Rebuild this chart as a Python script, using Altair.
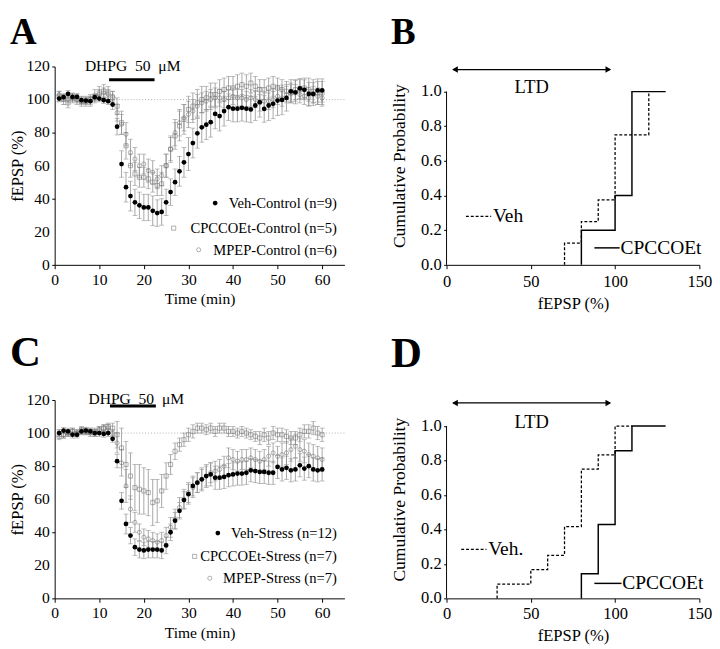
import altair as alt
import pandas as pd

SERIF = "Liberation Serif"
ERR_GRAY = "#8f8f8f"
PT_GRAY = "#707070"

minutes = list(range(1, 61))

# ---------- Panel A (control) ----------
veh_ctrl = [100.6, 101.4, 103.4, 101.6, 101.6, 99.6, 99.4, 99, 101.4, 100.6, 99.6, 99, 97, 83.6, 61, 47, 41.6, 37.8, 36, 34.7,
            34.7, 32.7, 31.3, 32, 37.8, 44, 50, 56.6, 62, 67, 73.7, 79.6, 83.2, 84.8, 86.3, 91.3, 90, 93, 95.4, 94.5,
            94.5, 95, 94.5, 94, 96.4, 98.4, 94.3, 96.4, 97.4, 99.4, 99.8, 101, 105, 104.4, 106.7, 105.9, 103.4, 103.4, 105.5, 105.5]
veh_ctrl_err = [2, 2, 2, 2, 2, 2, 2, 3, 2, 2, 2, 2, 3, 5, 8, 9, 9, 8, 8, 8,
                8, 9, 8, 8, 8, 8, 8, 9, 9, 10, 9, 9, 9, 9, 9, 9, 9, 9, 8, 8,
                8, 8, 8, 8, 9, 9, 8, 9, 9, 9, 9, 8, 7, 7, 6, 6, 7, 7, 7, 7]
cpc_ctrl = [102, 100, 98, 101, 100, 99, 99, 100, 102, 104, 105, 104, 101, 96, 86, 72, 60, 55, 53, 53,
            52, 50, 48, 49, 60, 70, 78, 84, 88, 94, 96, 98, 100, 101, 103, 103, 105, 106, 107, 107,
            108, 109, 108, 110, 108, 106, 106, 107, 108, 107, 106, 105, 104, 106, 106, 107, 106, 105, 104, 104]
cpc_ctrl_err = [3, 3, 3, 3, 3, 3, 3, 3, 4, 4, 4, 4, 4, 5, 7, 8, 7, 7, 6, 6,
                6, 6, 6, 7, 7, 8, 8, 9, 9, 8, 8, 8, 8, 7, 7, 7, 7, 7, 7, 7,
                7, 7, 7, 6, 6, 6, 6, 6, 6, 6, 6, 6, 6, 6, 6, 6, 7, 7, 7, 7]
mpep_ctrl = [103, 101, 100, 101, 100, 99, 99, 100, 101, 103, 104, 103, 102, 92, 85, 79, 68, 64, 60, 61,
             57, 56, 52, 54, 60, 70, 80, 86, 89, 91, 93, 96, 98, 99, 100, 101, 101, 100, 101, 102,
             101, 101, 100, 101, 100, 98, 99, 99, 100, 102, 101, 103, 104, 104, 103, 102, 101, 103, 102, 101]
mpep_ctrl_err = [2, 2, 2, 2, 2, 2, 2, 2, 2, 3, 3, 3, 3, 5, 6, 7, 8, 7, 7, 6,
                 7, 7, 6, 6, 7, 7, 8, 8, 8, 8, 7, 7, 6, 6, 6, 6, 5, 5, 5, 5,
                 5, 5, 5, 5, 5, 5, 5, 5, 5, 5, 5, 5, 5, 5, 5, 5, 5, 5, 5, 5]

# ---------- Panel C (stress) ----------
veh_str = [100, 101.5, 101, 99, 99, 101, 101.5, 101, 100, 100, 99.5, 100, 96.5, 83, 59, 45, 38, 31, 29.5, 29,
           29.5, 29.5, 29.5, 29, 32, 40, 47, 53, 59.5, 63, 68, 70, 72, 74, 75, 73, 73, 73.5, 74.5, 75,
           75.5, 75.5, 76, 77.5, 77, 76.5, 76.5, 76, 76, 79.5, 78, 79, 77.5, 78, 80.5, 78.5, 80, 78, 77.5, 78]
veh_str_err = [2, 2, 2, 2, 2, 2, 2, 2, 2, 2, 2, 2, 2, 4, 5, 6, 5, 5, 5, 5,
               5, 5, 5, 5, 5, 5, 5, 5, 5, 6, 6, 6, 7, 7, 7, 7, 7, 7, 7, 7,
               7, 7, 7, 7, 7, 7, 7, 7, 7, 7, 7, 7, 7, 7, 7, 7, 7, 7, 7, 7]
cpc_str = [98, 99, 100, 101, 100, 102, 101, 101, 100, 102, 103, 104, 103, 99, 91, 81, 74, 67, 66, 65,
           64, 58, 59, 65, 74, 81, 89, 93, 96, 99, 101, 103, 103, 102, 103, 101, 103, 103, 101, 101,
           100, 101, 100, 99, 98, 97, 99, 97, 100, 99, 99, 98, 97, 97, 99, 101, 101, 103, 100, 99]
cpc_str_err = [2, 2, 2, 2, 2, 2, 2, 2, 2, 2, 2, 2, 3, 8, 12, 14, 14, 14, 15, 14,
               14, 14, 13, 10, 8, 6, 5, 4, 4, 4, 4, 3, 3, 3, 3, 3, 3, 3, 3, 3,
               3, 3, 3, 3, 3, 4, 4, 4, 4, 4, 4, 4, 4, 4, 4, 4, 4, 4, 4, 4]
mpep_str = [100, 99, 100, 101, 100, 101, 101, 100, 101, 102, 103, 103, 100, 94, 82, 68, 54, 46, 40, 37,
            36, 35, 34, 35, 38, 43, 48, 55, 60, 64, 67, 70, 72, 74, 76, 77, 78, 80, 85, 84,
            83, 84, 84, 85, 84, 83, 84, 86, 88, 86, 87, 88, 90, 92, 90, 89, 87, 86, 85, 84]
mpep_str_err = [2, 2, 2, 2, 2, 2, 2, 2, 2, 2, 2, 2, 2, 6, 8, 10, 8, 6, 5, 5,
                5, 5, 5, 5, 5, 6, 6, 6, 6, 6, 6, 6, 6, 6, 6, 6, 6, 6, 6, 6,
                6, 6, 6, 6, 6, 6, 6, 6, 6, 6, 7, 7, 7, 7, 7, 7, 7, 7, 7, 7]

# ---------- Panels B / D (cumulative probability) ----------
b_veh_x = [70, 70, 80, 90, 100, 120]
b_veh_y = [0, 0.125, 0.25, 0.375, 0.75, 1.0]
b_cpc_x = [80, 80, 100, 110, 130]
b_cpc_y = [0, 0.2, 0.4, 1.0, 1.0]
d_veh_x = [30, 30, 50, 60, 70, 80, 90, 100, 110]
d_veh_y = [0, 0.083, 0.167, 0.25, 0.417, 0.75, 0.833, 1.0, 1.0]
d_cpc_x = [80, 80, 90, 100, 110, 130]
d_cpc_y = [0, 0.143, 0.429, 0.857, 1.0, 1.0]

time_ticks = [0, 10, 20, 30, 40, 50, 60]
fepsp_ticks = [0, 20, 40, 60, 80, 100, 120]
fepsp_labels = ["0", "20", "40", "60", "80", "100", "120"]
cum_x_ticks = [0, 50, 100, 150]
cum_y_ticks = [0, 0.2, 0.4, 0.6, 0.8, 1.0]
cum_y_labels = ["0.0", "0.2", "0.4", "0.6", "0.8", "1.0"]

ONE = pd.DataFrame({"k": [0]})
PANEL_H = 204


def tc_df(series):
    rows = []
    for name, vals, errs in series:
        for t, v, e in zip(minutes, vals, errs):
            rows.append({"t": t, "v": v, "lo": v - e, "hi": v + e, "s": name})
    return pd.DataFrame(rows)


def y_labels(values, labels, field, size):
    d = pd.DataFrame({field: values, "lab": labels})
    return alt.Chart(d).mark_text(font=SERIF, fontSize=size, align="right", baseline="middle",
                                  color="black").encode(
        x=alt.value(-5), y=alt.Y(f"{field}:Q"), text="lab:N")


def time_panel(df, letter, letter_pos, letter_size, labels, label_rows, marker_x, bar, text_pos, pads):
    xs = alt.Scale(domain=[0, 65], nice=False, zero=False)
    ys = alt.Scale(domain=[0, 120], nice=False)
    xax = alt.Axis(values=time_ticks, title="Time (min)", labelFontSize=16, titleFontSize=16,
                   tickSize=4, labelPadding=pads[0], titlePadding=pads[1], labelFlush=False,
                   labelOverlap=False, titleFontWeight="normal")
    yax = alt.Axis(values=fepsp_ticks, title="fEPSP (%)", labels=False, titleFontSize=17,
                   tickSize=3, titlePadding=26, titleFontWeight="normal")
    base = alt.Chart(df)
    err = base.mark_rule(color=ERR_GRAY, strokeWidth=0.8).encode(
        x=alt.X("t:Q", scale=xs, axis=xax), y=alt.Y("lo:Q", scale=ys, axis=yax), y2="hi:Q")
    cap_lo = base.mark_tick(orient="horizontal", size=5, thickness=0.8, color=ERR_GRAY).encode(
        x="t:Q", y="lo:Q")
    cap_hi = base.mark_tick(orient="horizontal", size=5, thickness=0.8, color=ERR_GRAY).encode(
        x="t:Q", y="hi:Q")
    ref = alt.Chart(ONE).mark_rule(color="#9a9a9a", strokeDash=[1, 2], strokeWidth=0.8).encode(
        y=alt.datum(100))
    sq = base.transform_filter(alt.datum.s == "cpc").mark_point(
        shape="square", filled=False, size=18, color=PT_GRAY, strokeWidth=0.8).encode(x="t:Q", y="v:Q")
    ci = base.transform_filter(alt.datum.s == "mpep").mark_point(
        shape="circle", filled=False, size=18, color=PT_GRAY, strokeWidth=0.8).encode(x="t:Q", y="v:Q")
    dots = base.transform_filter(alt.datum.s == "veh").mark_circle(
        size=24, color="black", opacity=1).encode(x="t:Q", y="v:Q")

    layers = [ref, err, cap_lo, cap_hi, sq, ci, dots, y_labels(fepsp_ticks, fepsp_labels, "lo", 16)]
    layers.append(alt.Chart(ONE).mark_rule(color="black", strokeWidth=3).encode(
        x=alt.datum(bar[0]), x2=alt.datum(bar[1]), y=alt.datum(bar[2])))
    layers.append(alt.Chart(ONE).mark_text(
        text="DHPG\u00a0\u00a050\u00a0\u00a0\u03bcM", font=SERIF, fontSize=16, align="center",
        baseline="alphabetic").encode(x=alt.datum(text_pos[0]), y=alt.datum(text_pos[1])))
    shapes = [("veh", None), ("cpc", "square"), ("mpep", "circle")]
    for (kind, shp), lab, ry, mx in zip(shapes, labels, label_rows, marker_x):
        layers.append(alt.Chart(ONE).mark_text(text=lab, font=SERIF, fontSize=15, align="right",
                                               baseline="middle").encode(
            x=alt.datum(63.3), y=alt.datum(ry)))
        if kind == "veh":
            m = alt.Chart(ONE).mark_circle(size=24, color="black", opacity=1)
        else:
            m = alt.Chart(ONE).mark_point(shape=shp, filled=False, size=18, color=PT_GRAY, strokeWidth=0.8)
        layers.append(m.encode(x=alt.datum(mx), y=alt.datum(ry)))
    layers.append(alt.Chart(ONE).mark_text(text=letter, font=SERIF, fontSize=letter_size,
                                           fontWeight="bold", align="left", baseline="alphabetic").encode(
        x=alt.datum(letter_pos[0]), y=alt.datum(letter_pos[1])))
    return alt.layer(*layers).properties(width=298, height=PANEL_H)


def cum_panel(vx, vy, cx, cy, letter, letter_pos, letter_size, ymax, veh_label, veh_leg, cpc_leg, arrow_y, pads):
    xs = alt.Scale(domain=[0, 150], nice=False, zero=False)
    ys = alt.Scale(domain=[0, ymax], nice=False)
    xax = alt.Axis(values=cum_x_ticks, title="fEPSP (%)", labelFontSize=17, titleFontSize=17,
                   tickSize=4, labelPadding=pads[0], titlePadding=pads[1], labelFlush=False,
                   labelOverlap=False, titleFontWeight="normal")
    yax = alt.Axis(values=cum_y_ticks, title="Cumulative Probability", labels=False,
                   titleFontSize=18, tickSize=3, titlePadding=36,
                   titleFontWeight="normal", domain=False)
    cdf = pd.DataFrame({"x": cx, "y": cy, "i": list(range(len(cx)))})
    vdf = pd.DataFrame({"x": vx, "y": vy, "i": list(range(len(vx)))})
    cline = alt.Chart(cdf).mark_line(interpolate="step-after", color="black", strokeWidth=1.5).encode(
        x=alt.X("x:Q", scale=xs, axis=xax), y=alt.Y("y:Q", scale=ys, axis=yax), order="i:Q")
    vline = alt.Chart(vdf).mark_line(interpolate="step-after", color="black", strokeWidth=1.3,
                                     strokeDash=[3, 2]).encode(x="x:Q", y="y:Q", order="i:Q")
    # y axis line only up to 1.0
    yline = alt.Chart(ONE).mark_rule(color="black", strokeWidth=1).encode(
        x=alt.datum(0), y=alt.datum(0), y2=alt.datum(1.0))
    layers = [yline, vline, cline, y_labels(cum_y_ticks, cum_y_labels, "y", 17)]
    layers.append(alt.Chart(ONE).mark_rule(color="black", strokeWidth=1.3, strokeDash=[3, 2]).encode(
        x=alt.datum(veh_leg[0]), x2=alt.datum(veh_leg[1]), y=alt.datum(veh_leg[2])))
    layers.append(alt.Chart(ONE).mark_text(text=veh_label, font=SERIF, fontSize=20, align="left",
                                           baseline="middle").encode(
        x=alt.datum(veh_leg[1] + 1), y=alt.datum(veh_leg[2])))
    layers.append(alt.Chart(ONE).mark_rule(color="black", strokeWidth=1.5).encode(
        x=alt.datum(cpc_leg[0]), x2=alt.datum(cpc_leg[1]), y=alt.datum(cpc_leg[2])))
    layers.append(alt.Chart(ONE).mark_text(text="CPCCOEt", font=SERIF, fontSize=20, align="left",
                                           baseline="middle").encode(
        x=alt.datum(cpc_leg[1] + 0.5), y=alt.datum(cpc_leg[2])))
    layers.append(alt.Chart(ONE).mark_rule(color="black", strokeWidth=1.3).encode(
        x=alt.datum(4), x2=alt.datum(97), y=alt.datum(arrow_y)))
    layers.append(alt.Chart(ONE).mark_point(shape="triangle-left", filled=True, size=45, color="black",
                                            opacity=1).encode(x=alt.datum(5), y=alt.datum(arrow_y)))
    layers.append(alt.Chart(ONE).mark_point(shape="triangle-right", filled=True, size=45, color="black",
                                            opacity=1).encode(x=alt.datum(96), y=alt.datum(arrow_y)))
    layers.append(alt.Chart(ONE).mark_text(text="LTD", font=SERIF, fontSize=19, align="center",
                                           baseline="alphabetic").encode(
        x=alt.datum(50.5), y=alt.datum(0.99)))
    layers.append(alt.Chart(ONE).mark_text(text=letter, font=SERIF, fontSize=letter_size,
                                           fontWeight="bold", align="left", baseline="alphabetic").encode(
        x=alt.datum(letter_pos[0]), y=alt.datum(letter_pos[1])))
    return alt.layer(*layers).properties(width=260, height=PANEL_H)


dfA = tc_df([("veh", veh_ctrl, veh_ctrl_err), ("cpc", cpc_ctrl, cpc_ctrl_err), ("mpep", mpep_ctrl, mpep_ctrl_err)])
dfC = tc_df([("veh", veh_str, veh_str_err), ("cpc", cpc_str, cpc_str_err), ("mpep", mpep_str, mpep_str_err)])

A = time_panel(dfA, "A", (-10.03, 133.5), 38,
               ["Veh-Control (n=9)", "CPCCOEt-Control (n=5)", "MPEP-Control (n=6)"],
               [37.4, 22.2, 9.1], [36, 26.7, 32.3], (12.2, 22.4, 112), (17.5, 117.2), (3, 4))
C = time_panel(dfC, "C", (-10.03, 140.6), 44,
               ["Veh-Stress (n=12)", "CPCCOEt-Stress (n=7)", "MPEP-Stress (n=7)"],
               [39.5, 25.4, 12.2], [36.6, 31.4, 34.8], (12.4, 22.7, 116.4), (18.3, 117.3), (3, 4))
# B/D: 1.0 sits a little below the top of the plot, as in the reference
B = cum_panel(b_veh_x, b_veh_y, b_cpc_x, b_cpc_y, "B", (-32.9, 1.274), 38, 1.145, "Veh",
              (11.5, 26.5, 0.28), (87.7, 102.7, 0.098), 1.127, (5, 7))
D = cum_panel(d_veh_x, d_veh_y, d_cpc_x, d_cpc_y, "D", (-32.9, 1.343), 44, 1.151, "Veh.",
              (8.7, 23.7, 0.285), (87.7, 103.8, 0.087), 1.134, (4, 6))

chart = alt.vconcat(
    alt.hconcat(A, B, spacing=46),
    alt.hconcat(C, D, spacing=46),
    spacing=20,
).properties(padding={"left": 0, "top": -2, "right": 0, "bottom": 0}).configure_view(
    stroke=None
).configure_axis(
    grid=False, domainColor="black", tickColor="black", labelColor="black", titleColor="black",
    labelFont=SERIF, titleFont=SERIF, titleFontWeight="normal", domainWidth=1, tickWidth=1,
    labelOverlap=False
)

chart.save("out.html", embed_options={"renderer": "svg", "actions": False})
